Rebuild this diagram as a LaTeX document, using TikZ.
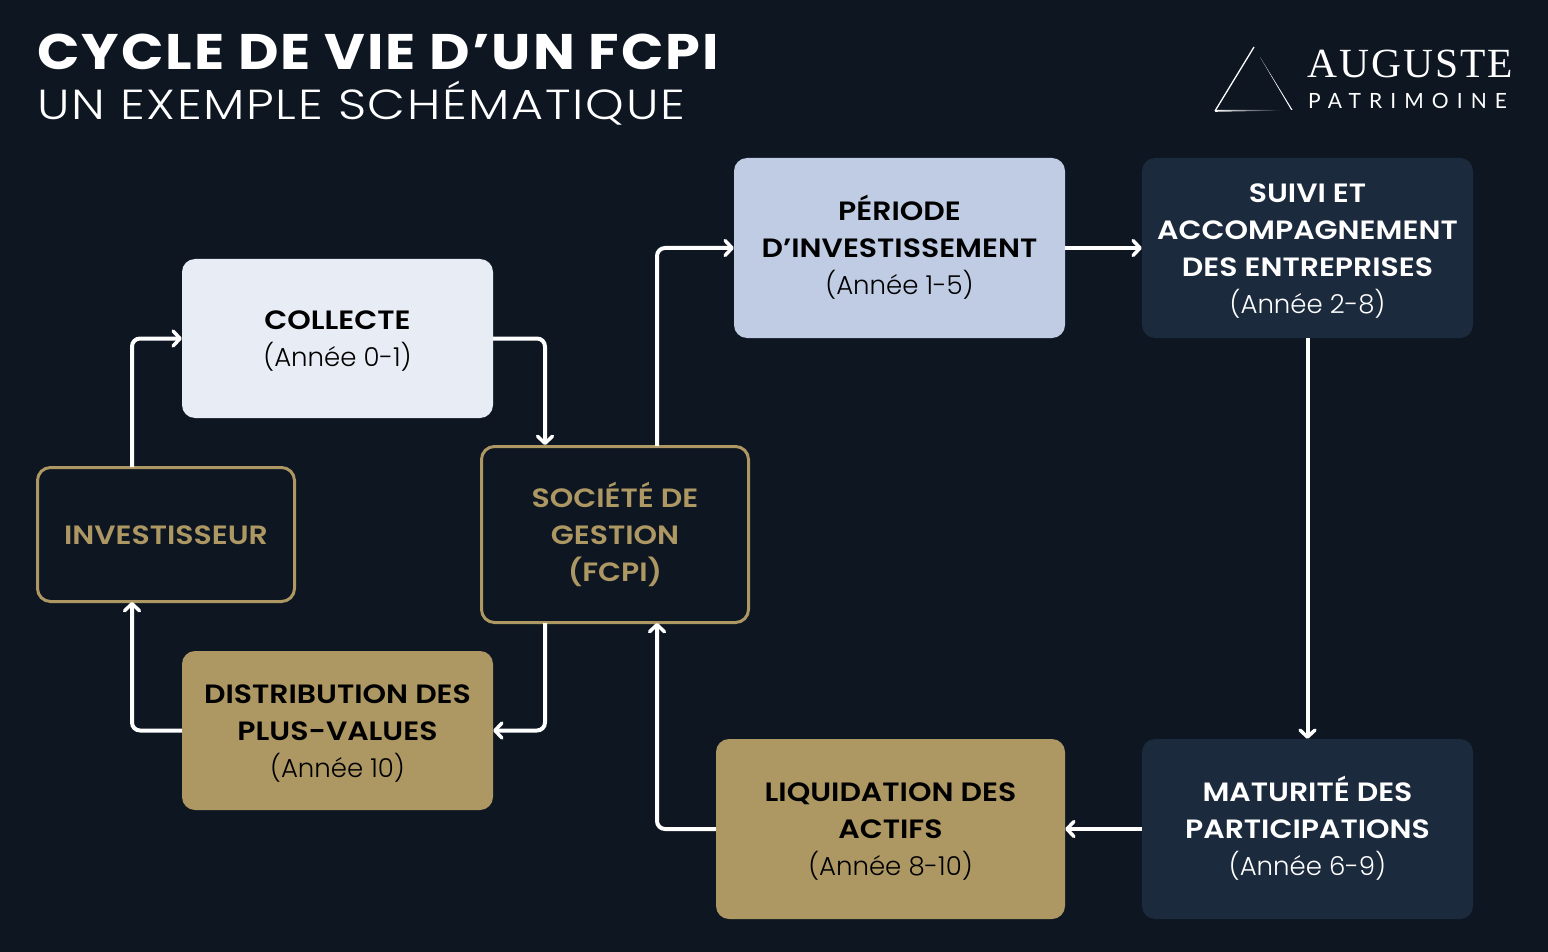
\documentclass[tikz,border=0pt]{standalone}
\usepackage{fontspec}
\setmainfont{Poppins Light}
\newfontfamily\stepbold[FakeStretch=1.13]{Poppins SemiBold}
\newfontfamily\logoserif[LetterSpace=5]{Liberation Serif}
\newfontfamily\logosans[LetterSpace=38.5]{Lato}
\newfontfamily\titlefont[FakeStretch=1.115,LetterSpace=4]{Poppins Bold}
\newfontfamily\subfont[FakeStretch=1.17,LetterSpace=4]{Poppins Light}
\usetikzlibrary{arrows.meta}
\definecolor{pagebg}{HTML}{0D1621}
\definecolor{gold}{HTML}{AD9763}
\definecolor{palebox}{HTML}{E8ECF5}
\definecolor{bluebox}{HTML}{BFCCE4}
\definecolor{navybox}{HTML}{1B2A3D}
\tikzset{
  box/.style={rectangle,rounded corners=13pt,inner sep=0pt,align=center,
    font=\fontsize{26.5}{37}\selectfont},
  palestep/.style={box,fill=palebox,text=black},
  bluestep/.style={box,fill=bluebox,text=black},
  navystep/.style={box,fill=navybox,text=white},
  goldstep/.style={box,fill=gold,text=black},
  outlinestep/.style={box,draw=gold,line width=3pt,text=gold},
  link/.style={draw=white,line width=4pt,rounded corners=8pt,
    -{Straight Barb[length=7pt,width=15pt,line width=3.5pt,round]}},
}
% one fixed line height, so that the boxes centre on the lines
\newcommand{\lineup}{\rule[-9pt]{0pt}{37pt}}
\newcommand{\tb}[1]{\lineup{\stepbold #1}}
\newcommand{\yr}[1]{\lineup{\fontsize{26}{37}\selectfont #1}}
\begin{document}
\begin{tikzpicture}[x=1pt,y=-1pt]
  \useasboundingbox (0,0) rectangle (1548,952);
  \fill[pagebg] (0,0) rectangle (1548,952);

  % title
  \node[anchor=west,inner sep=0pt,text=white] (title) at (37,52)
    {\titlefont\fontsize{50}{50}\selectfont CYCLE DE VIE D’UN FCPI};
  \node[anchor=west,inner sep=0pt,text=white] (subtitle) at (37,103)
    {\subfont\fontsize{42}{42}\selectfont UN EXEMPLE SCHÉMATIQUE};

  % logo
  \draw[white,line width=1.3pt] (1254,47) -- (1215,111);
  \shade[left color=white,right color=pagebg] (1215,111.8) -- (1282,110.6) -- (1282,109.8) -- (1216,110) -- cycle;
  \fill[white] (1260,57) -- (1292.6,110) -- (1291.2,110) -- cycle;
  \node[anchor=west,inner sep=0pt,text=white] (logoname) at (1307,64)
    {\logoserif\fontsize{41.5}{42}\selectfont AUGUSTE};
  \node[anchor=west,inner sep=0pt,text=white] (logosub) at (1308,101)
    {\logosans\fontsize{21}{21}\selectfont PATRIMOINE};

  % steps
  \node[palestep,minimum width=311pt,minimum height=159pt] (collecte) at (337.5,338.5)
    {\tb{COLLECTE}\\\yr{(Année 0-1)}};
  \node[bluestep,minimum width=331pt,minimum height=180pt] (periode) at (899.5,248)
    {\tb{PÉRIODE}\\\tb{D’INVESTISSEMENT}\\\yr{(Année 1-5)}};
  \node[navystep,minimum width=331pt,minimum height=180pt] (suivi) at (1307.5,248)
    {\tb{SUIVI ET}\\\tb{ACCOMPAGNEMENT}\\\tb{DES ENTREPRISES}\\\yr{(Année 2-8)}};
  \node[outlinestep,minimum width=257pt,minimum height=134pt] (investisseur) at (166,534.5)
    {\tb{INVESTISSEUR}};
  \node[outlinestep,minimum width=267pt,minimum height=176pt] (societe) at (615,534.5)
    {\tb{SOCIÉTÉ DE}\\\tb{GESTION}\\\tb{(FCPI)}};
  \node[goldstep,minimum width=311pt,minimum height=159pt] (distribution) at (337.5,730.5)
    {\tb{DISTRIBUTION DES}\\\tb{PLUS-VALUES}\\\yr{(Année 10)}};
  \node[goldstep,minimum width=349pt,minimum height=180pt] (liquidation) at (890.5,829)
    {\tb{LIQUIDATION DES}\\\tb{ACTIFS}\\\yr{(Année 8-10)}};
  \node[navystep,minimum width=331pt,minimum height=180pt] (maturite) at (1307.5,829)
    {\tb{MATURITÉ DES}\\\tb{PARTICIPATIONS}\\\yr{(Année 6-9)}};

  % ports off the anchors
  \coordinate (investout) at (132,467);
  \coordinate (investin) at (132,602);
  \coordinate (socin) at (545,445);
  \coordinate (socout) at (545,623);
  \coordinate (socup) at (657,446);
  \coordinate (socback) at (657,623);

  % links
  \draw[link] (investout) |- (collecte.west);
  \draw[link] (collecte.east) -| (socin);
  \draw[link] (socup) |- (periode.west);
  \draw[link] (periode.east) -- (suivi.west);
  \draw[link] (suivi.south) -- (maturite.north);
  \draw[link] (maturite.west) -- (liquidation.east);
  \draw[link] (liquidation.west) -| (socback);
  \draw[link] (socout) |- (distribution.east);
  \draw[link] (distribution.west) -| (investin);
\end{tikzpicture}
\end{document}
